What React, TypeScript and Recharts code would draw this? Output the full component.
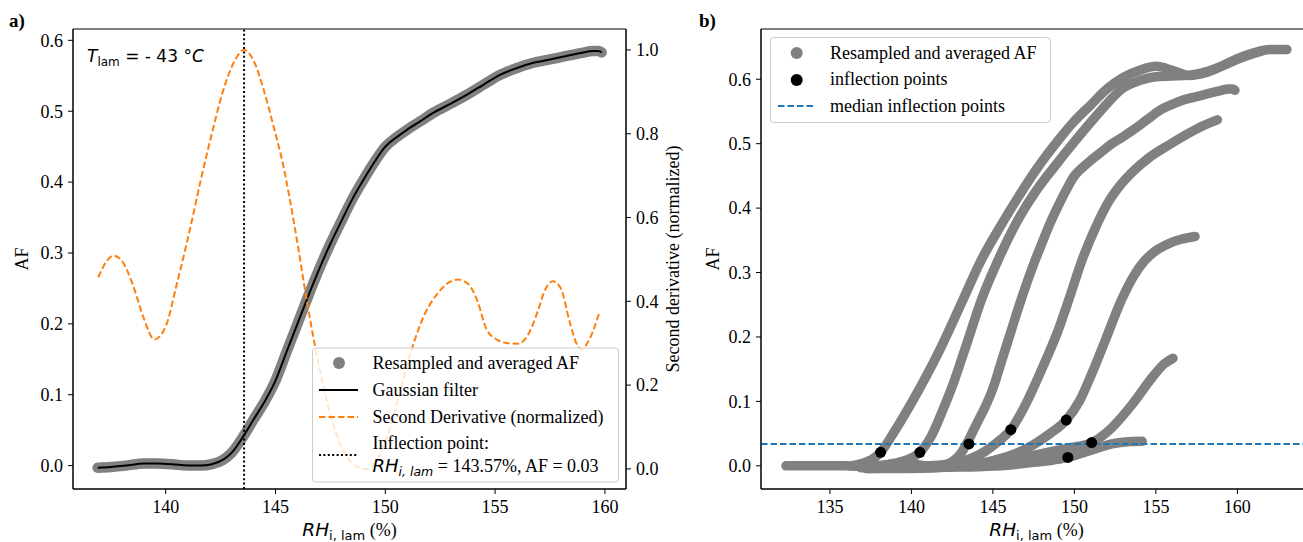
import React from 'react';
import { ComposedChart, Line, XAxis, YAxis, ReferenceLine, ReferenceArea, Scatter } from 'recharts';

const SERIF = '"Liberation Serif", "Times New Roman", serif';
const SANS = '"DejaVu Sans", sans-serif';

// ---------- Panel a data ----------
const afX = [136.9, 137.5, 138.2, 139.0, 139.6, 140.3, 141.0, 141.6, 142.1, 142.6, 143.0, 143.57, 144.0, 144.5, 145.0, 145.5, 146.0, 146.5, 147.0, 147.5, 148.0, 148.5, 149.0, 149.5, 150.0, 150.5, 151.0, 151.6, 152.2, 153.0, 153.7, 154.5, 155.2, 156.0, 156.7, 157.5, 158.25, 158.9, 159.46, 159.7, 159.85];
const afY = [-0.003, -0.002, 0.0, 0.003, 0.003, 0.002, 0.0, 0.0, 0.002, 0.008, 0.018, 0.043, 0.065, 0.09, 0.12, 0.16, 0.2, 0.24, 0.278, 0.313, 0.345, 0.376, 0.403, 0.428, 0.45, 0.463, 0.474, 0.486, 0.498, 0.511, 0.523, 0.538, 0.551, 0.561, 0.568, 0.573, 0.578, 0.582, 0.585, 0.585, 0.583];

const d2X = [136.93, 137.3, 137.61, 138.0, 138.5, 139.0, 139.48, 140.0, 140.5, 141.11, 141.6, 142.1, 142.6, 143.1, 143.57, 144.0, 144.44, 144.9, 145.35, 145.9, 146.39, 146.8, 147.3, 147.8, 148.3, 148.7, 149.15, 149.6, 150.1, 150.6, 151.2, 151.8, 152.4, 152.9, 153.32, 153.8, 154.2, 154.61, 155.1, 155.6, 156.05, 156.5, 156.9, 157.3, 157.64, 158.0, 158.4, 158.7, 158.93, 159.3, 159.77];
const d2Y = [0.457, 0.495, 0.509, 0.497, 0.44, 0.36, 0.309, 0.34, 0.44, 0.573, 0.69, 0.8, 0.9, 0.97, 1.0, 0.975, 0.909, 0.82, 0.725, 0.57, 0.413, 0.293, 0.17, 0.08, 0.025, 0.006, 0.0, 0.02, 0.08, 0.17, 0.285, 0.37, 0.42, 0.445, 0.452, 0.44, 0.4, 0.333, 0.308, 0.3, 0.299, 0.32, 0.37, 0.43, 0.448, 0.43, 0.35, 0.3, 0.285, 0.31, 0.377];

const inflectionRH = 143.57;
const aXTicks = [140, 145, 150, 155, 160];
const aYTicks = [0, 0.1, 0.2, 0.3, 0.4, 0.5, 0.6];
const aRTicks = [0, 0.2, 0.4, 0.6, 0.8, 1.0];
const aXDomain = [135.78, 160.96];
const aYDomain = [-0.033, 0.616];
const aRDomain = [-0.048, 1.05];

// ---------- Panel b data ----------
const c1X = [136.3, 137.0, 137.6, 138.11, 139.0, 140.1, 141.74, 143.17, 144.2, 145.42, 146.5, 147.8, 149.0, 150.0, 151.0, 152.0, 153.0, 154.0, 155.0, 156.0, 157.0, 158.0, 159.0, 160.0, 161.0, 162.0, 163.04];
const c1Y = [0.0, 0.004, 0.01, 0.021, 0.055, 0.102, 0.18, 0.258, 0.315, 0.37, 0.415, 0.465, 0.505, 0.535, 0.56, 0.585, 0.603, 0.614, 0.62, 0.614, 0.606, 0.61, 0.62, 0.632, 0.641, 0.646, 0.646];
const c2X = [137.0, 138.0, 139.0, 139.8, 140.52, 141.2, 141.9, 142.6, 143.4, 144.3, 145.42, 146.5, 147.6, 148.8, 150.0, 151.0, 152.0, 152.9, 154.0, 155.0, 156.0, 157.0, 158.0, 159.0, 160.0, 161.0, 161.5];
const c2Y = [-0.002, 0.0, 0.004, 0.01, 0.021, 0.045, 0.085, 0.13, 0.19, 0.258, 0.325, 0.38, 0.425, 0.465, 0.503, 0.533, 0.562, 0.585, 0.598, 0.604, 0.605, 0.606, 0.611, 0.62, 0.631, 0.64, 0.644];
const c4X = [137.5, 139.0, 141.0, 142.5, 143.5, 144.5, 145.3, 146.1, 147.0, 148.0, 149.0, 149.66, 150.48, 151.3, 152.1, 152.8, 153.6, 154.57, 155.8, 157.0, 158.0, 158.77];
const c4Y = [-0.003, -0.002, 0.0, 0.003, 0.01, 0.022, 0.037, 0.056, 0.095, 0.15, 0.21, 0.258, 0.32, 0.37, 0.41, 0.435, 0.457, 0.478, 0.498, 0.516, 0.529, 0.537];
const c5X = [137.2, 140.0, 143.0, 145.0, 146.5, 147.5, 148.5, 149.5, 150.3, 151.1, 151.9, 152.9, 153.6, 154.3, 155.0, 155.8, 156.6, 157.4];
const c5Y = [-0.004, -0.004, 0.0, 0.008, 0.02, 0.033, 0.05, 0.071, 0.1, 0.145, 0.195, 0.258, 0.293, 0.318, 0.334, 0.345, 0.352, 0.356];
const c6X = [132.3, 134.0, 136.0, 137.5, 140.0, 143.0, 145.5, 147.4, 148.7, 149.6, 150.5, 151.5, 152.3, 153.1, 154.16];
const c6Y = [0.0, 0.0, 0.0, -0.002, -0.003, -0.002, 0.0, 0.005, 0.009, 0.013, 0.02, 0.028, 0.034, 0.037, 0.038];
const c7X = [137.3, 140.0, 143.0, 145.5, 147.4, 149.5, 151.06, 152.17, 153.6, 154.8, 155.5, 156.05];
const c7Y = [-0.004, -0.003, 0.0, 0.006, 0.016, 0.027, 0.036, 0.056, 0.097, 0.138, 0.158, 0.167];

const inflX = [138.11, 140.52, 143.53, 146.1, 149.5, 149.6, 151.06];
const inflY = [0.021, 0.021, 0.034, 0.056, 0.071, 0.013, 0.036];

const bXTicks = [135, 140, 145, 150, 155, 160];
const bYTicks = [0, 0.1, 0.2, 0.3, 0.4, 0.5, 0.6];
const bXDomain = [130.77, 164.58];
const bYDomain = [-0.036, 0.678];

const toPts = (xs: number[], ys: number[]) => xs.map((x, i) => ({ x, y: ys[i] }));
const median = (v: number[]) => {
  const s = [...v].sort((a, b) => a - b);
  const m = Math.floor(s.length / 2);
  return s.length % 2 ? s[m] : (s[m - 1] + s[m]) / 2;
};

const afPts = toPts(afX, afY);
const d2Pts = toPts(d2X, d2Y);
const curvesB = [toPts(c1X, c1Y), toPts(c2X, c2Y), afPts, toPts(c4X, c4Y), toPts(c5X, c5Y), toPts(c6X, c6Y), toPts(c7X, c7Y)];
const inflPts = toPts(inflX, inflY);
const medianInfl = median(inflY);

const tickStyle = { fill: '#000', fontSize: 18, fontFamily: SERIF };
const GRAY = '#808080';
const ORANGE = '#ff7f0e';
const BLUE = '#1f77b4';

const XLabel = (props: any) => {
  const vb = props.viewBox;
  return (
    <text x={vb.x + vb.width / 2} y={vb.y + 47} textAnchor="middle" fill="#000">
      <tspan fontFamily={SANS} fontStyle="italic" fontSize={18.5}>RH</tspan>
      <tspan fontFamily={SANS} fontSize={13} dy={4}>i, lam</tspan>
      <tspan fontFamily={SERIF} fontSize={18} dy={-4}> (%)</tspan>
    </text>
  );
};

const VLabel = (text: string, dx: number, rot: number) => (props: any) => {
  const vb = props.viewBox;
  const cx = vb.x + dx;
  const cy = vb.y + vb.height / 2;
  return (
    <text x={cx} y={cy} transform={`rotate(${rot} ${cx} ${cy})`} textAnchor="middle" dominantBaseline="central" fontFamily={SERIF} fontSize={18} fill="#000">
      {text}
    </text>
  );
};

const Dot = (props: any) => <circle cx={props.cx} cy={props.cy} r={5.5} fill="#000" />;

export default function App() {
  return (
    <div style={{ position: 'absolute', left: 0, top: 0, width: 1303, height: 542, overflow: 'hidden', background: '#fff' }}>
      <div style={{ position: 'absolute', left: 0, top: 0 }}>
        <ComposedChart width={700} height={542} margin={{ top: 29, right: 0, bottom: 0, left: 0 }}>
          <XAxis type="number" dataKey="x" domain={aXDomain} allowDataOverflow ticks={aXTicks} interval={0} height={53}
            tickSize={5} tickMargin={6} axisLine={{ stroke: '#000' }} tickLine={{ stroke: '#000' }} tick={tickStyle}
            label={{ content: XLabel }} />
          <YAxis yAxisId="l" type="number" domain={aYDomain} allowDataOverflow ticks={aYTicks} interval={0} width={73}
            tickFormatter={(v: number) => v.toFixed(1)} tickSize={5} tickMargin={5} axisLine={{ stroke: '#000' }}
            tickLine={{ stroke: '#000' }} tick={tickStyle} label={{ content: VLabel('AF', 22, -90) }} />
          <YAxis yAxisId="r" orientation="right" type="number" domain={aRDomain} allowDataOverflow ticks={aRTicks} interval={0} width={74}
            tickFormatter={(v: number) => v.toFixed(1)} tickSize={5} tickMargin={5} axisLine={{ stroke: '#000' }}
            tickLine={{ stroke: '#000' }} tick={tickStyle} label={{ content: VLabel('Second derivative (normalized)', 47, -90) }} />
          <ReferenceArea yAxisId="l" x1={aXDomain[0]} x2={aXDomain[1]} y1={aYDomain[0]} y2={aYDomain[1]} fill="none" stroke="#000" strokeWidth={1} fillOpacity={0} ifOverflow="visible" />
          <Line yAxisId="l" data={afPts} dataKey="y" type="monotone" stroke={GRAY} strokeWidth={10.5} strokeLinecap="round" strokeLinejoin="round" dot={false} activeDot={false} isAnimationActive={false} />
          <Line yAxisId="l" data={afPts} dataKey="y" type="monotone" stroke="#000" strokeWidth={2} dot={false} activeDot={false} isAnimationActive={false} />
          <ReferenceLine yAxisId="l" x={inflectionRH} stroke="#000" strokeWidth={2} strokeDasharray="2 2.4" />
          <Line yAxisId="r" data={d2Pts} dataKey="y" type="monotone" stroke={ORANGE} strokeWidth={2} strokeDasharray="6.5 3" dot={false} activeDot={false} isAnimationActive={false} />
        </ComposedChart>
      </div>
      <div style={{ position: 'absolute', left: 680, top: 0 }}>
        <ComposedChart width={640} height={542} margin={{ top: 29, right: 8, bottom: 0, left: 0 }}>
          <XAxis type="number" dataKey="x" domain={bXDomain} allowDataOverflow ticks={bXTicks} interval={0} height={53}
            tickSize={5} tickMargin={6} axisLine={{ stroke: '#000' }} tickLine={{ stroke: '#000' }} tick={tickStyle}
            label={{ content: XLabel }} />
          <YAxis type="number" domain={bYDomain} allowDataOverflow ticks={bYTicks} interval={0} width={81}
            tickFormatter={(v: number) => v.toFixed(1)} tickSize={5} tickMargin={5} axisLine={{ stroke: '#000' }}
            tickLine={{ stroke: '#000' }} tick={tickStyle} label={{ content: VLabel('AF', 33, -90) }} />
          <ReferenceArea x1={bXDomain[0]} x2={bXDomain[1]} y1={bYDomain[0]} y2={bYDomain[1]} fill="none" stroke="#000" strokeWidth={1} fillOpacity={0} ifOverflow="visible" />
          {curvesB.map((c, i) => (
            <Line key={i} data={c} dataKey="y" type="monotone" stroke={GRAY} strokeWidth={9.5} strokeLinecap="round" strokeLinejoin="round" dot={false} activeDot={false} isAnimationActive={false} />
          ))}
          <ReferenceLine y={medianInfl} stroke={BLUE} strokeWidth={2} strokeDasharray="6.5 3" />
          <Scatter data={inflPts} dataKey="y" fill="#000" shape={Dot} isAnimationActive={false} />
        </ComposedChart>
      </div>
      <svg width={1303} height={542} style={{ position: 'absolute', left: 0, top: 0, pointerEvents: 'none' }}>
        <text x={9} y={27} fontFamily={SERIF} fontWeight="bold" fontSize={19} fill="#000">a)</text>
        <text x={699} y={27} fontFamily={SERIF} fontWeight="bold" fontSize={19} fill="#000">b)</text>
        <text x={87} y={62} fill="#000" fontFamily={SANS}>
          <tspan fontStyle="italic" fontSize={17}>T</tspan>
          <tspan fontSize={12} dy={4}>lam</tspan>
          <tspan fontSize={17} dy={-4}> = - 43 °</tspan>
          <tspan fontSize={17} fontStyle="italic">C</tspan>
        </text>
        {/* legend a */}
        <rect x={312.5} y={348} width={306} height={134} rx={3} fill="#fff" fillOpacity={0.8} stroke="#ccc" strokeWidth={1} />
        <circle cx={339} cy={363} r={6} fill={GRAY} />
        <line x1={319} x2={358} y1={390} y2={390} stroke="#000" strokeWidth={2} />
        <line x1={319} x2={358} y1={417} y2={417} stroke={ORANGE} strokeWidth={2} strokeDasharray="6.5 3" />
        <line x1={319} x2={358} y1={455} y2={455} stroke="#000" strokeWidth={2} strokeDasharray="2 2.4" />
        <g fontFamily={SERIF} fontSize={18} fill="#000">
          <text x={372.5} y={369}>Resampled and averaged AF</text>
          <text x={372.5} y={396}>Gaussian filter</text>
          <text x={372.5} y={423}>Second Derivative (normalized)</text>
          <text x={372.5} y={449}>Inflection point:</text>
          <text x={372.5} y={472}>
            <tspan fontFamily={SANS} fontStyle="italic" fontSize={18}>RH</tspan>
            <tspan fontFamily={SANS} fontStyle="italic" fontSize={12.5} dy={4}>i, lam</tspan>
            <tspan dy={-4}> = 143.57%, AF = 0.03</tspan>
          </text>
        </g>
        {/* legend b */}
        <rect x={770.5} y={37.5} width={280} height={85} rx={3} fill="#fff" fillOpacity={0.8} stroke="#ccc" strokeWidth={1} />
        <circle cx={796.7} cy={53} r={6} fill={GRAY} />
        <circle cx={796.7} cy={80} r={6} fill="#000" />
        <line x1={778} x2={815} y1={106} y2={106} stroke={BLUE} strokeWidth={2} strokeDasharray="6.5 3" />
        <g fontFamily={SERIF} fontSize={18} fill="#000">
          <text x={830} y={59}>Resampled and averaged AF</text>
          <text x={830} y={85}>inflection points</text>
          <text x={830} y={112}>median inflection points</text>
        </g>
      </svg>
    </div>
  );
}
